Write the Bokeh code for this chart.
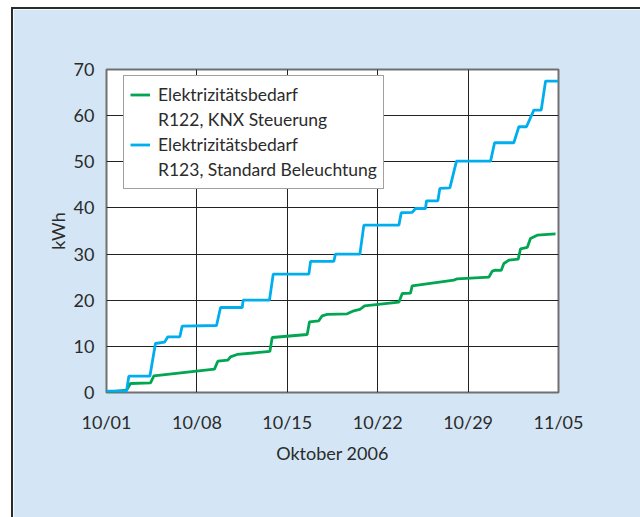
from bokeh.plotting import figure
from bokeh.models import Legend, LegendItem, FixedTicker, Range1d
from bokeh.embed import file_html
from bokeh.resources import INLINE

# ---- data (days since 2006-10-01, cumulative kWh) ----
tick_days = [0, 7, 14, 21, 28, 35]
tick_labels = ["10/01", "10/08", "10/15", "10/22", "10/29", "11/05"]
y_ticks = [0, 10, 20, 30, 40, 50, 60, 70]

r122_day = [0, 1.55, 1.86, 3.41, 3.67, 8.36, 8.62, 9.40, 9.60, 10.12, 12.65, 12.83,
            15.54, 15.72, 16.44, 16.70, 17.09, 18.64, 19.15, 19.62, 19.98, 22.64,
            22.90, 23.54, 23.67, 26.90, 27.16, 29.61, 29.87, 30.12, 30.56, 30.77,
            31.16, 31.88, 32.06, 32.58, 32.83, 33.35, 34.77]
r122_kwh = [0.1, 0.5, 1.95, 2.1, 3.6, 5.06, 6.79, 7.01, 7.73, 8.24, 8.89, 11.92,
            12.57, 15.32, 15.53, 16.62, 16.91, 17.05, 17.70, 17.99, 18.79, 19.58,
            21.46, 21.53, 23.12, 24.35, 24.64, 25.0, 26.30, 26.52, 26.45, 27.96,
            28.68, 28.90, 31.14, 31.43, 33.38, 34.10, 34.39]

r123_day = [0, 1.55, 1.73, 3.36, 3.79, 4.49, 4.75, 5.68, 5.86, 8.52, 8.83, 10.51,
            10.58, 12.62, 12.91, 15.67, 15.80, 17.60, 17.73, 19.62, 19.93, 22.64,
            22.82, 23.67, 23.93, 24.70, 24.78, 25.66, 25.81, 26.59, 27.10, 29.74,
            30.05, 31.54, 31.93, 32.52, 33.09, 33.66, 34.0, 35.0]
r123_kwh = [0.3, 0.3, 3.54, 3.54, 10.62, 10.91, 12.07, 12.07, 14.38, 14.52, 18.42,
            18.42, 20.01, 20.01, 25.65, 25.65, 28.40, 28.40, 29.99, 29.99, 36.27,
            36.27, 38.95, 39.02, 39.88, 39.88, 41.55, 41.55, 44.22, 44.36, 50.14,
            50.14, 54.12, 54.12, 57.59, 57.59, 61.2, 61.2, 67.49, 67.49]

legend_text = [["Elektrizitätsbedarf", "R122, KNX Steuerung"],
               ["Elektrizitätsbedarf", "R123, Standard Beleuchtung"]]
x_title = "Oktober 2006"
y_title = "kWh"

FONT = "Lato"
TXT = "#2b2b2b"
BG = "#d4e6f5"
GREEN = "#00a651"
BLUE = "#00aeef"

p = figure(width=627, height=508, output_backend="svg", toolbar_location=None,
           x_range=Range1d(0, 35), y_range=Range1d(0, 70),
           min_border_left=93, min_border_top=60, min_border_right=82,
           min_border_bottom=125, frame_width=452, frame_height=323)
p.styles = {"position": "absolute", "left": "11px", "top": "7px",
            "border-left": "2px solid #2b2b2b", "border-top": "2px solid #2b2b2b"}
p.border_fill_color = BG
p.background_fill_color = "white"
p.outline_line_color = "#707070"
p.outline_line_width = 2

g = p.line(r122_day, r122_kwh, line_color=GREEN, line_width=2.8)
b = p.line(r123_day, r123_kwh, line_color=BLUE, line_width=2.8)
d1 = p.line([], [], line_alpha=0)
d2 = p.line([], [], line_alpha=0)

p.xaxis.ticker = FixedTicker(ticks=tick_days)
p.xaxis.major_label_overrides = {d: l for d, l in zip(tick_days, tick_labels)}
p.yaxis.ticker = FixedTicker(ticks=y_ticks)
for ax in (p.xaxis, p.yaxis):
    ax.axis_line_color = None
    ax.major_tick_line_color = None
    ax.minor_tick_line_color = None
    ax.major_tick_out = 0
    ax.major_tick_in = 0
    ax.minor_tick_out = 0
    ax.minor_tick_in = 0
    ax.major_label_text_font = FONT
    ax.major_label_text_font_size = "18px"
    ax.major_label_text_color = TXT
    ax.axis_label_text_font = FONT
    ax.axis_label_text_font_size = "18px"
    ax.axis_label_text_color = TXT
    ax.axis_label_text_font_style = "normal"
p.xaxis.axis_label = x_title
p.yaxis.axis_label = y_title
p.xaxis.major_label_standoff = 18
p.yaxis.major_label_standoff = 12
p.xaxis.axis_label_standoff = 6
p.yaxis.axis_label_standoff = 2

p.grid.grid_line_color = "#222222"
p.grid.grid_line_width = 1
p.grid.grid_line_alpha = 1

legend = Legend(items=[
    LegendItem(label=legend_text[0][0], renderers=[g]),
    LegendItem(label=legend_text[0][1], renderers=[d1]),
    LegendItem(label=legend_text[1][0], renderers=[b]),
    LegendItem(label=legend_text[1][1], renderers=[d2]),
], location=(17, 203))
legend.label_text_font = FONT
legend.label_text_font_size = "17.5px"
legend.label_text_color = TXT
legend.border_line_color = "#444444"
legend.border_line_width = 1
legend.background_fill_color = "white"
legend.background_fill_alpha = 1
legend.padding = 6
legend.spacing = 0
legend.margin = 0
legend.label_height = 25
legend.glyph_height = 25
legend.glyph_width = 20
legend.label_standoff = 8
p.add_layout(legend, "center")

open("out.html", "w").write(file_html(p, INLINE))
